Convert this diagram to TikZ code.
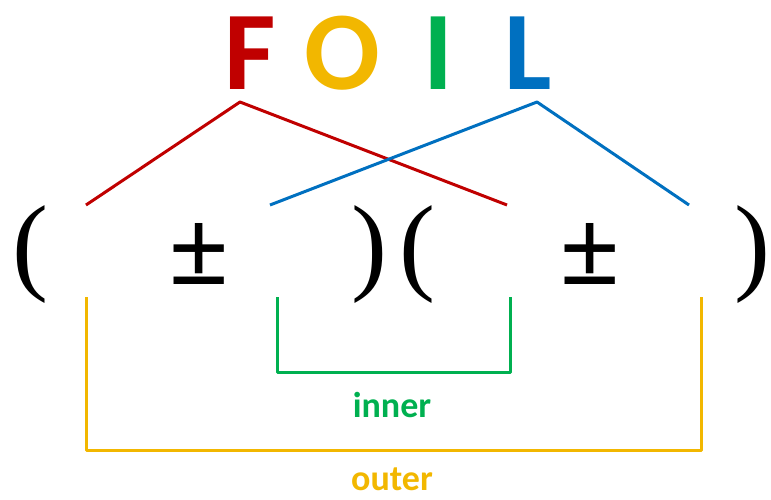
\documentclass[tikz,border=0pt]{standalone}
\usepackage{fontspec}
\setmainfont{Carlito}
\newfontfamily\termfont{Liberation Serif}
\usepackage{xcolor}
\usetikzlibrary{positioning}
\definecolor{FoilRed}{HTML}{C00000}
\definecolor{FoilGold}{HTML}{F2B700}
\definecolor{FoilGreen}{HTML}{00B050}
\definecolor{FoilBlue}{HTML}{0070C0}
\begin{document}
\begin{tikzpicture}[
  x=1pt,y=-1pt,
  letter/.style={inner sep=0pt,font=\bfseries\fontsize{112}{112}\selectfont},
  term/.style={inner sep=0pt,font=\termfont\fontsize{108}{108}\selectfont},
  sign/.style={term,font=\termfont\bfseries\fontsize{108}{108}\selectfont},
  tag/.style={inner sep=0pt,font=\bfseries\fontsize{36}{36}\selectfont},
  pair/.style={line width=3pt,line join=round}
]
\useasboundingbox (0,0) rectangle (771,499);
\node[letter,text=FoilRed] (f) at (250,53) {F};
\node[letter,text=FoilGold] (o) at (342,53) {O};
\node[letter,text=FoilGreen] (i) at (438,53) {I};
\node[letter,text=FoilBlue] (l) at (528,53) {L};
\node[term] (lpA) at (30,255) {(};
\node[sign] (pmA) at (199,254) {±};
\node[term] (rpA) at (369,255) {)};
\node[term] (lpB) at (417,255) {(};
\node[sign] (pmB) at (590,254) {±};
\node[term] (rpB) at (752,255) {)};
\node[tag,text=FoilGreen] (inner) at (392,405) {inner};
\node[tag,text=FoilGold] (outer) at (392,479) {outer};
\coordinate (fApex) at (240,102);
\coordinate (lApex) at (537,102);
\coordinate (aTop) at (86,205);
\coordinate (bTop) at (270,205);
\coordinate (cTop) at (507,205);
\coordinate (dTop) at (689,205);
\coordinate (aBot) at (86,297);
\coordinate (bBot) at (277,297);
\coordinate (cBot) at (510,297);
\coordinate (dBot) at (701,297);
\draw[pair,FoilRed] (aTop) -- (fApex) -- (cTop);
\draw[pair,FoilBlue] (bTop) -- (lApex) -- (dTop);
\draw[pair,FoilGreen] (bBot) -- ++(0,75) -| (cBot);
\draw[pair,FoilGold] (aBot) -- ++(0,153) -| (dBot);
\end{tikzpicture}
\end{document}
